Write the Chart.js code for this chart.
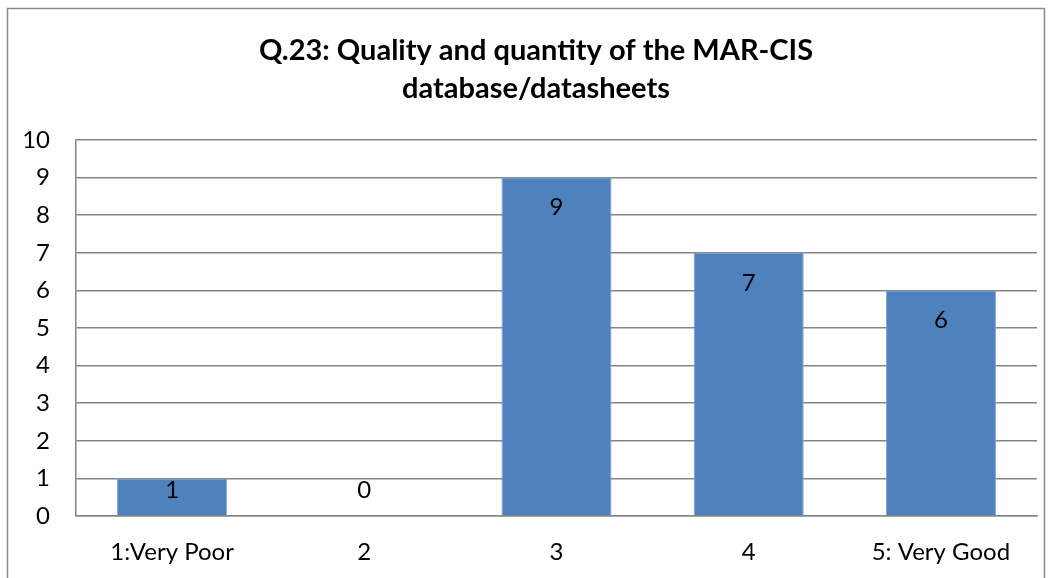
<!DOCTYPE html>
<html>
<head>
<meta charset="utf-8">
<script src="https://cdn.jsdelivr.net/npm/chart.js@4"></script>
<style>
html,body{margin:0;padding:0;background:#fff;}
#wrap{position:relative;width:1057px;height:578px;}
</style>
</head>
<body>
<div id="wrap"><canvas id="c" width="1057" height="578"></canvas></div>
<script>
const categories = ["1:Very Poor", "2", "3", "4", "5: Very Good"];
const counts = [1, 0, 9, 7, 6];
const titleLines = ["Q.23: Quality and quantity of the MAR-CIS", "database/datasheets"];
const yTicks = [0, 1, 2, 3, 4, 5, 6, 7, 8, 9, 10];

const FONT = "Lato, 'Open Sans', sans-serif";

const frame = {
  id: 'frame',
  beforeDraw(chart) {
    const ctx = chart.ctx;
    ctx.save();
    ctx.fillStyle = '#fff';
    ctx.fillRect(0, 0, chart.width, chart.height);
    ctx.strokeStyle = '#8a8a8a';
    ctx.lineWidth = 1.5;
    ctx.beginPath();
    ctx.moveTo(7.5, 600);
    ctx.lineTo(7.5, 8.5);
    ctx.lineTo(1044.5, 8.5);
    ctx.lineTo(1044.5, 600);
    ctx.stroke();
    ctx.restore();
  },
  afterDraw(chart) {
    // title text drawn centred on the frame (built-in title kept for spacing)
    const ctx = chart.ctx;
    const tb = chart.titleBlock;
    ctx.save();
    ctx.font = "bold 29px " + FONT;
    ctx.fillStyle = '#000';
    ctx.textAlign = 'center';
    ctx.textBaseline = 'middle';
    const lh = 29 * 1.31;
    const top = tb.top + 32;
    titleLines.forEach((t, i) => ctx.fillText(t, 536, top + lh * i + lh / 2));
    ctx.restore();
  }
};

const labels = {
  id: 'labels',
  afterDatasetsDraw(chart) {
    const ctx = chart.ctx;
    const meta = chart.getDatasetMeta(0);
    const base = chart.scales.y.getPixelForValue(0);
    ctx.save();
    ctx.font = "24px " + FONT;
    ctx.fillStyle = '#000';
    ctx.textAlign = 'center';
    ctx.textBaseline = 'middle';
    meta.data.forEach((bar, i) => {
      const y = Math.min(bar.y + 30, base - 26);
      ctx.fillText(String(counts[i]), bar.x, y);
    });
    ctx.restore();
  }
};

new Chart(document.getElementById('c'), {
  type: 'bar',
  data: {
    labels: categories,
    datasets: [{
      data: counts,
      backgroundColor: '#4F81BD',
      borderColor: '#7FA4D6',
      borderWidth: 1,
      categoryPercentage: 1,
      barPercentage: 0.573
    }]
  },
  options: {
    responsive: false,
    animation: false,
    devicePixelRatio: 1,
    layout: { padding: { left: 8, right: 20, top: 0, bottom: 0 } },
    plugins: {
      legend: { display: false },
      tooltip: { enabled: false },
      title: {
        display: true,
        text: titleLines,
        color: 'rgba(0,0,0,0)',
        font: { family: FONT, size: 29, weight: 'bold', lineHeight: 1.31 },
        padding: { top: 31, bottom: 33 }
      }
    },
    scales: {
      x: {
        grid: { display: false, drawTicks: false },
        border: { display: true, color: '#868686', width: 1.5 },
        ticks: { color: '#000', font: { family: FONT, size: 24 }, padding: 22, maxRotation: 0 },
        afterFit(s) { s.height = 62; }
      },
      y: {
        min: 0, max: 10,
        afterBuildTicks(s) { s.ticks = yTicks.map(v => ({ value: v })); },
        grid: { color: '#868686', lineWidth: 1.5, drawTicks: false },
        border: { display: true, color: '#868686', width: 1.5 },
        ticks: { color: '#000', font: { family: FONT, size: 24 }, padding: 26, stepSize: 1 },
        afterFit(s) { s.width = 68; }
      }
    }
  },
  plugins: [frame, labels]
});
</script>
</body>
</html>
